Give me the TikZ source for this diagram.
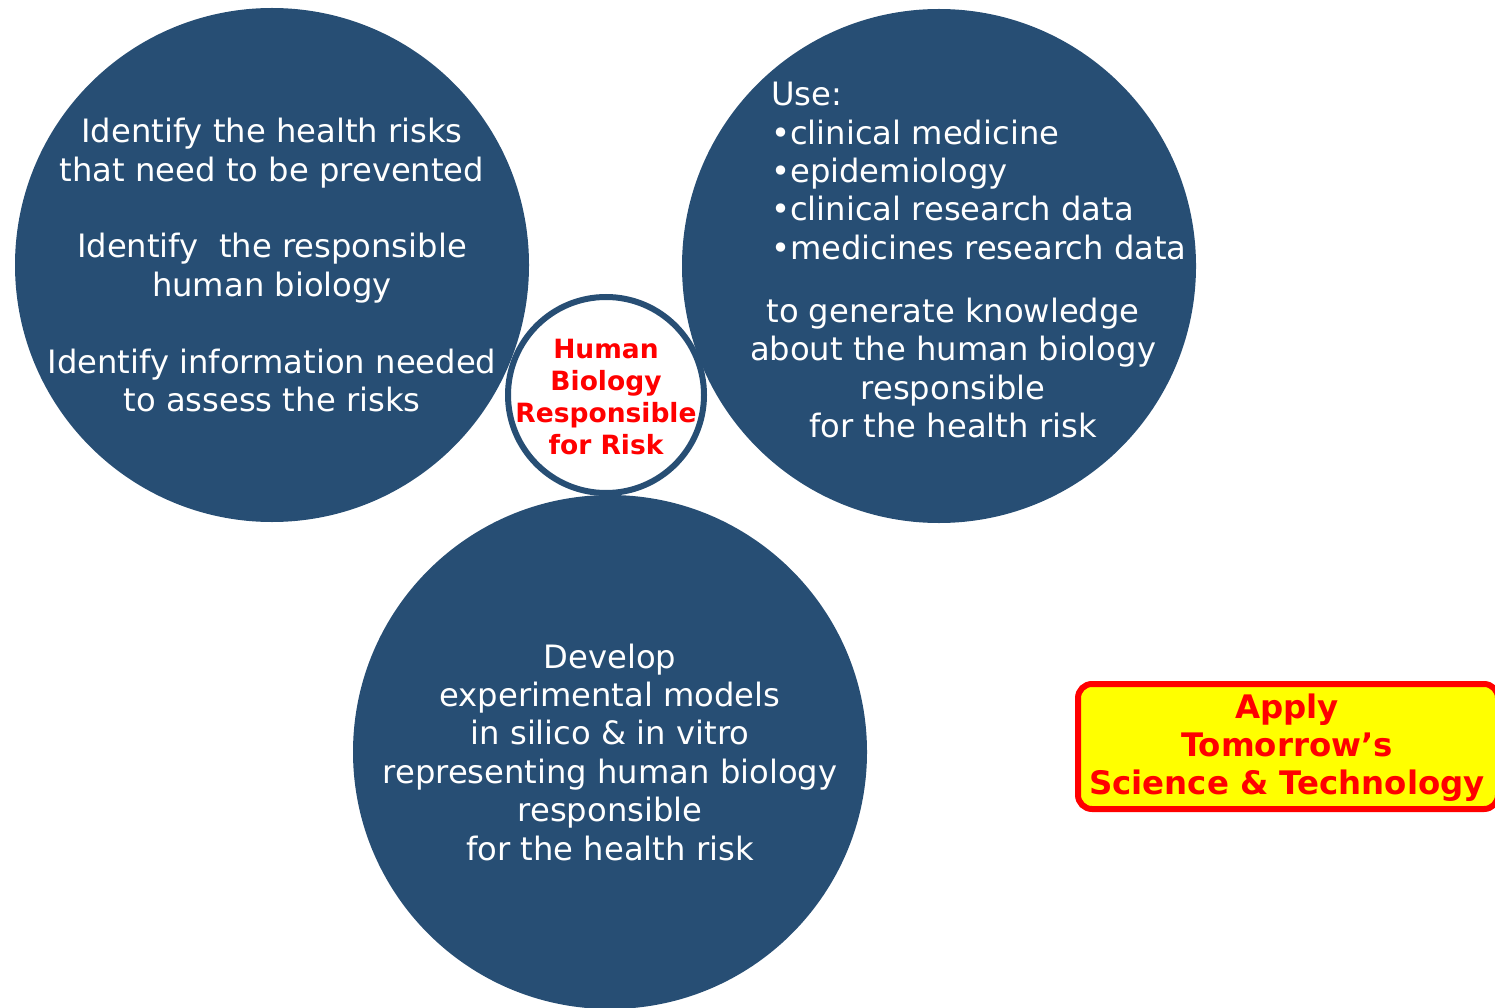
\documentclass[tikz,border=0pt]{standalone}
\usepackage{fontspec}
\setmainfont{DejaVu Sans}
\definecolor{navy}{RGB}{39,78,116}
\definecolor{pptred}{RGB}{255,0,0}
\definecolor{pptyellow}{RGB}{255,255,0}
\begin{document}
\begin{tikzpicture}[x=1pt,y=-1pt,
  bigc/.style={circle,fill=navy,draw=none,minimum size=514pt,inner sep=0pt},
  hubc/.style={circle,fill=white,draw=navy,line width=6pt,minimum size=196pt,inner sep=0pt},
  wtxt/.style={text=white,inner sep=0pt,font=\fontsize{32.2}{38.4}\selectfont},
  rtxt/.style={text=pptred,inner sep=0pt,align=center,font=\fontsize{26.5}{32}\selectfont\bfseries},
  ybox/.style={rectangle,rounded corners=14pt,fill=pptyellow,draw=pptred,line width=6pt,
    minimum width=420pt,minimum height=125pt,inner sep=0pt}]
\useasboundingbox (0,0) rectangle (1495,1008);
% big circles
\node[bigc] (L) at (272,265) {};
\node[bigc] (R) at (939,266) {};
\node[bigc] (B) at (610,752) {};
% hub
\node[hubc] (H) at (606,395) {};
% texts
\node[wtxt,align=center] (Lt) at (L.center) {Identify the health risks\\that need to be prevented\\[38.4pt]Identify\ \ the responsible\\human biology\\[38.4pt]Identify information needed\\to assess the risks};
\node[wtxt,align=left,anchor=west] (Rt1) at (771,171) {Use:\\•clinical medicine\\•epidemiology\\•clinical research data\\•medicines research data};
\node[wtxt,align=center] (Rt2) at (953,368) {to generate knowledge\\about the human biology\\responsible\\for the health risk};
\node[wtxt,align=center] (Bt) at (B.center) {Develop\\experimental models\\in silico \& in vitro\\representing human biology\\responsible\\for the health risk};
\node[rtxt] (Ht) at (606,397) {Human\\Biology\\Responsible\\for Risk};
% yellow box
\node[ybox] (Y) at (1288,746.5) {};
\node[rtxt,font=\fontsize{32.4}{38}\selectfont\bfseries] (Yt) at (1287,748) {Apply\\Tomorrow’s\\Science \& Technology};
\end{tikzpicture}
\end{document}
